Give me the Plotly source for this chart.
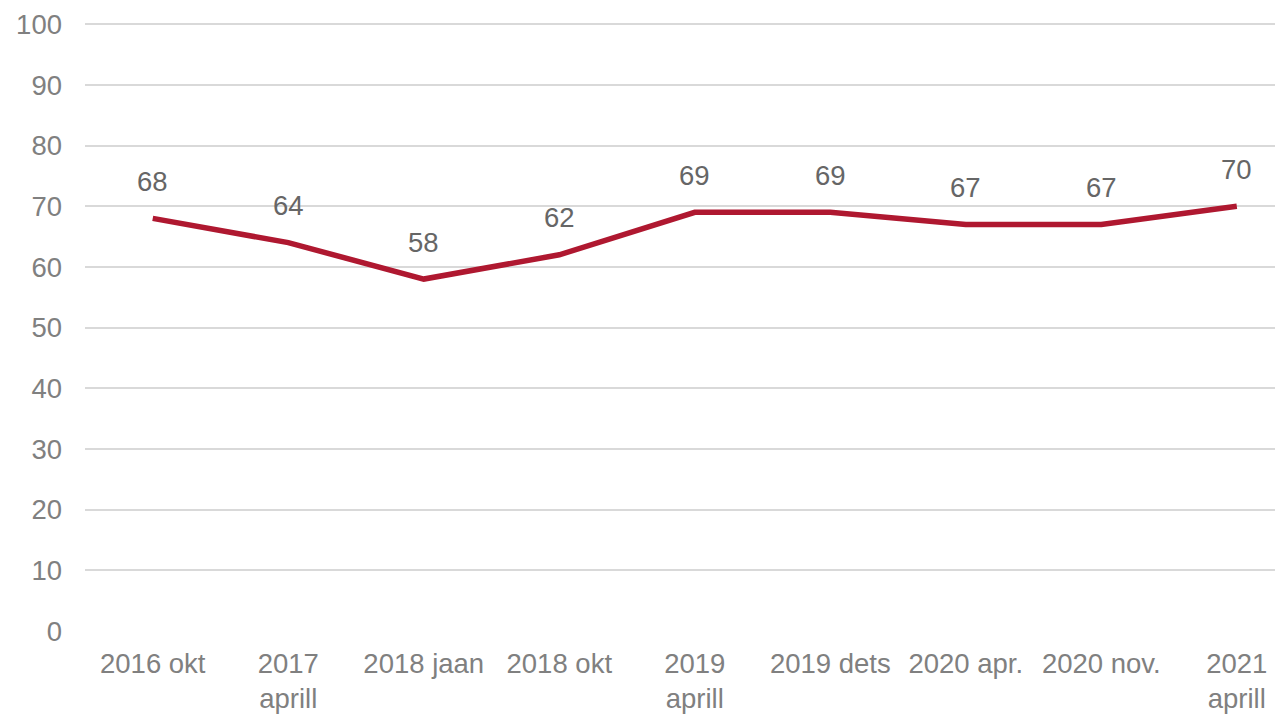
import plotly.graph_objects as go

# Andmed
kategooriad = ["2016 okt", "2017<br>aprill", "2018 jaan", "2018 okt", "2019<br>aprill",
               "2019 dets", "2020 apr.", "2020 nov.", "2021<br>aprill"]
vaartused = [68, 64, 58, 62, 69, 69, 67, 67, 70]
y_tikid = [0, 10, 20, 30, 40, 50, 60, 70, 80, 90, 100]

FONT = "Liberation Sans, Arial, sans-serif"
SUURUS = 27.5

fig = go.Figure()
fig.add_trace(go.Scatter(
    x=list(range(len(kategooriad))),
    y=vaartused,
    mode="lines",
    line=dict(color="#AF1830", width=5.5),
    hoverinfo="skip",
))

# Andmesildid punktide kohal
for i, v in enumerate(vaartused):
    fig.add_annotation(
        x=i, y=v, text=str(v), showarrow=False,
        yshift=37, yanchor="middle",
        font=dict(family=FONT, size=SUURUS, color="#666666"),
    )

# lehe body-l on 8px veeris, seepärast nihutame
fig.update_layout(
    width=1283, height=714,
    margin=dict(l=77, r=0, t=15, b=91),
    paper_bgcolor="white", plot_bgcolor="white",
    showlegend=False,
    font=dict(family=FONT, size=SUURUS, color="#808080"),
)
fig.update_xaxes(
    range=[-0.5, 8.4],
    tickmode="array",
    tickvals=list(range(len(kategooriad))),
    ticktext=kategooriad,
    showgrid=False, zeroline=False, showline=False,
    ticks="", ticklabelstandoff=13, automargin=False,
    tickfont=dict(family=FONT, size=SUURUS, color="#808080"),
)
fig.update_yaxes(
    range=[0, 100.2],
    tickmode="array",
    tickvals=y_tikid,
    showgrid=True, gridcolor="#D9D9D9", gridwidth=1.5,
    zeroline=False, showline=False,
    ticks="", ticklabelstandoff=22, automargin=False,
    tickfont=dict(family=FONT, size=SUURUS, color="#808080"),
)

fig.write_html("out.html")
